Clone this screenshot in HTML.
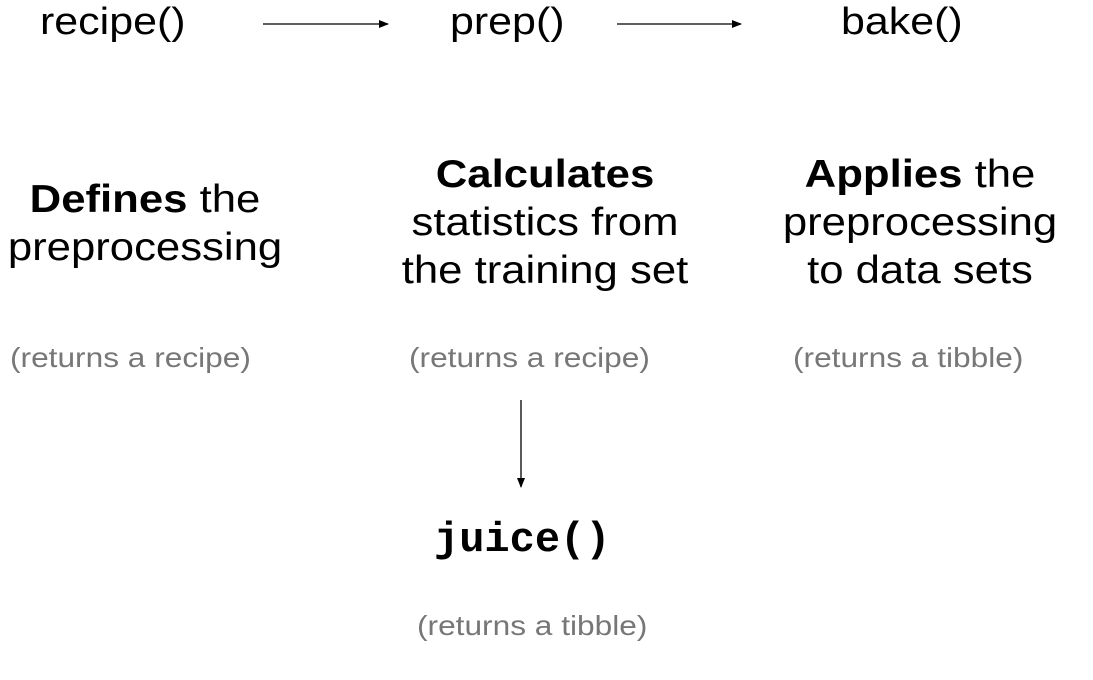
<!DOCTYPE html>
<html><head><meta charset="utf-8"><style>
html,body{margin:0;padding:0;background:#fff;width:1093px;height:680px;overflow:hidden;position:relative;font-family:"Liberation Sans","DejaVu Sans",sans-serif;color:#000}
.t{position:absolute;white-space:nowrap}
.fn{font-size:38px;top:1px;transform:scaleX(1.13);transform-origin:0 0}
.big{font-size:39px;line-height:48px;text-align:center;transform:scaleX(1.12);transform-origin:50% 0}
.g{font-size:28px;color:#777;transform:scaleX(1.13);transform-origin:0 0}
b{font-weight:bold}
</style></head><body>
<div class="t fn" style="left:40px">recipe()</div>
<div class="t fn" style="left:450px">prep()</div>
<div class="t fn" style="left:841px">bake()</div>
<svg width="1093" height="680" style="position:absolute;left:0;top:0">
<defs><marker id="a" markerWidth="10" markerHeight="8" refX="9" refY="4" orient="auto" markerUnits="userSpaceOnUse"><path d="M0,0 L10,4 L0,8z" fill="#000"/></marker></defs>
<line x1="263" y1="24" x2="388" y2="24" stroke="#000" stroke-width="1.3" marker-end="url(#a)"/>
<line x1="617" y1="24" x2="741" y2="24" stroke="#000" stroke-width="1.3" marker-end="url(#a)"/>
<line x1="521" y1="400" x2="521" y2="487" stroke="#000" stroke-width="1.3" marker-end="url(#a)"/>
</svg>
<div class="t big" style="left:0;width:290px;top:176px"><b>Defines</b> the<br>preprocessing</div>
<div class="t big" style="left:395px;width:300px;top:151px"><b>Calculates</b><br>statistics from<br>the training set</div>
<div class="t big" style="left:770px;width:300px;top:151px"><b>Applies</b> the<br>preprocessing<br>to data sets</div>
<div class="t g" style="left:10px;top:342px">(returns a recipe)</div>
<div class="t g" style="left:409px;top:342px">(returns a recipe)</div>
<div class="t g" style="left:793px;top:342px">(returns a tibble)</div>
<div class="t" style="left:434px;top:516px;font-family:'Liberation Mono','DejaVu Sans Mono',monospace;font-weight:bold;font-size:42px">juice()</div>
<div class="t g" style="left:417px;top:610px">(returns a tibble)</div>
</body></html>
